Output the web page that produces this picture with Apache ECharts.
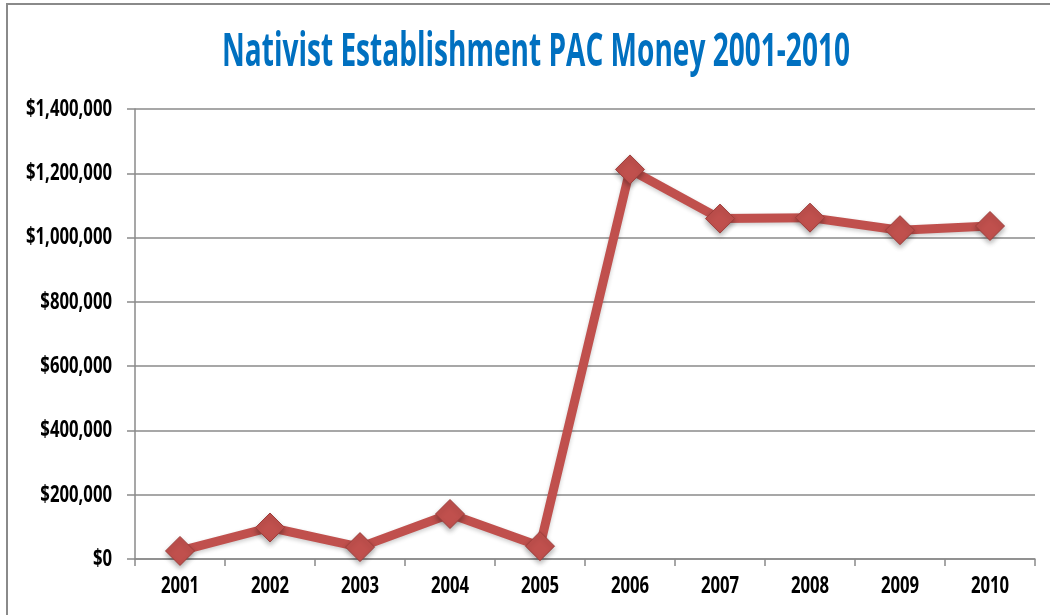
<!DOCTYPE html>
<html>
<head>
<meta charset="utf-8">
<script src="https://cdn.jsdelivr.net/npm/echarts@6/dist/echarts.min.js"></script>
<style>
  html, body { margin: 0; padding: 0; background: #fff; }
  #chart { width: 1050px; height: 615px; }
</style>
</head>
<body>
<div id="chart"></div>
<script>
// Annual PAC money, 2001-2010
const years = ['2001', '2002', '2003', '2004', '2005', '2006', '2007', '2008', '2009', '2010'];
const pacMoney = [25000, 98000, 37000, 140000, 40000, 1212000, 1059000, 1062000, 1023000, 1036000];
const yTicks = [0, 200000, 400000, 600000, 800000, 1000000, 1200000, 1400000];
const titleText = 'Nativist Establishment PAC Money 2001-2010';

const FONT = "'Open Sans', 'Noto Sans', sans-serif";
const GRID = { left: 135, right: 15, top: 109, bottom: 56 };

function money(v) {
  return '$' + v.toLocaleString('en-US');
}

// Horizontal squeeze that turns a regular bold face into a condensed one
function squeeze(sample, size, targetWidth) {
  const ctx = document.createElement('canvas').getContext('2d');
  ctx.font = 'bold ' + size + 'px ' + FONT;
  return targetWidth / ctx.measureText(sample).width;
}

const TITLE_SIZE = 46;
const LABEL_SIZE = 24;
const titleScale = squeeze(titleText, TITLE_SIZE, 628);
const labelScale = squeeze('$1,400,000', LABEL_SIZE, 86);

const chart = echarts.init(document.getElementById('chart'), null, { renderer: 'canvas' });
chart.setOption({
  animation: false,
  backgroundColor: '#ffffff',
  grid: GRID,
  xAxis: {
    type: 'category',
    data: years,
    boundaryGap: true,
    axisLine: { lineStyle: { color: '#8a8a8a', width: 1.5 } },
    axisTick: { show: true, length: 7, lineStyle: { color: '#8a8a8a', width: 1.5 } },
    axisLabel: { show: false }
  },
  yAxis: {
    type: 'value',
    min: yTicks[0],
    max: yTicks[yTicks.length - 1],
    interval: 200000,
    axisLine: { show: true, lineStyle: { color: '#8a8a8a', width: 1.5 } },
    axisTick: { show: true, length: 8, lineStyle: { color: '#8a8a8a', width: 1.5 } },
    splitLine: { lineStyle: { color: '#8a8a8a', width: 1.5 } },
    axisLabel: { show: false }
  },
  series: [{
    type: 'line',
    data: pacMoney,
    symbol: 'diamond',
    symbolSize: 29,
    lineStyle: {
      color: '#C0504D',
      width: 9,
      shadowColor: 'rgba(0,0,0,0.2)',
      shadowBlur: 4,
      shadowOffsetY: 2
    },
    itemStyle: {
      color: '#C0504D',
      borderColor: '#9E3E3B',
      borderWidth: 1,
      shadowColor: 'rgba(0,0,0,0.3)',
      shadowBlur: 5,
      shadowOffsetY: 3
    }
  }]
});

// Condensed text: title and axis labels, placed through the chart's own scales
const texts = [];
texts.push({
  type: 'rect',
  shape: { x: 7, y: 4, width: 1200, height: 800 },
  style: { fill: 'none', stroke: '#8a8a8a', lineWidth: 2 },
  silent: true,
  z: -1
});
texts.push({
  type: 'text',
  x: 536,
  y: 53,
  scaleX: titleScale,
  style: {
    text: titleText,
    align: 'center',
    verticalAlign: 'middle',
    fontFamily: FONT,
    fontWeight: 'bold',
    fontSize: TITLE_SIZE,
    fill: '#0070C0'
  }
});
years.forEach(function (yr) {
  const p = chart.convertToPixel({ gridIndex: 0 }, [yr, 0]);
  texts.push({
    type: 'text',
    x: p[0],
    y: p[1] + 27,
    scaleX: labelScale,
    style: {
      text: yr,
      align: 'center',
      verticalAlign: 'middle',
      fontFamily: FONT,
      fontWeight: 'bold',
      fontSize: LABEL_SIZE,
      fill: '#000'
    }
  });
});
yTicks.forEach(function (v) {
  const py = chart.convertToPixel({ yAxisIndex: 0 }, v);
  texts.push({
    type: 'text',
    x: GRID.left - 23,
    y: py,
    scaleX: labelScale,
    style: {
      text: money(v),
      align: 'right',
      verticalAlign: 'middle',
      fontFamily: FONT,
      fontWeight: 'bold',
      fontSize: LABEL_SIZE,
      fill: '#000'
    }
  });
});
chart.setOption({ graphic: texts });
</script>
</body>
</html>
